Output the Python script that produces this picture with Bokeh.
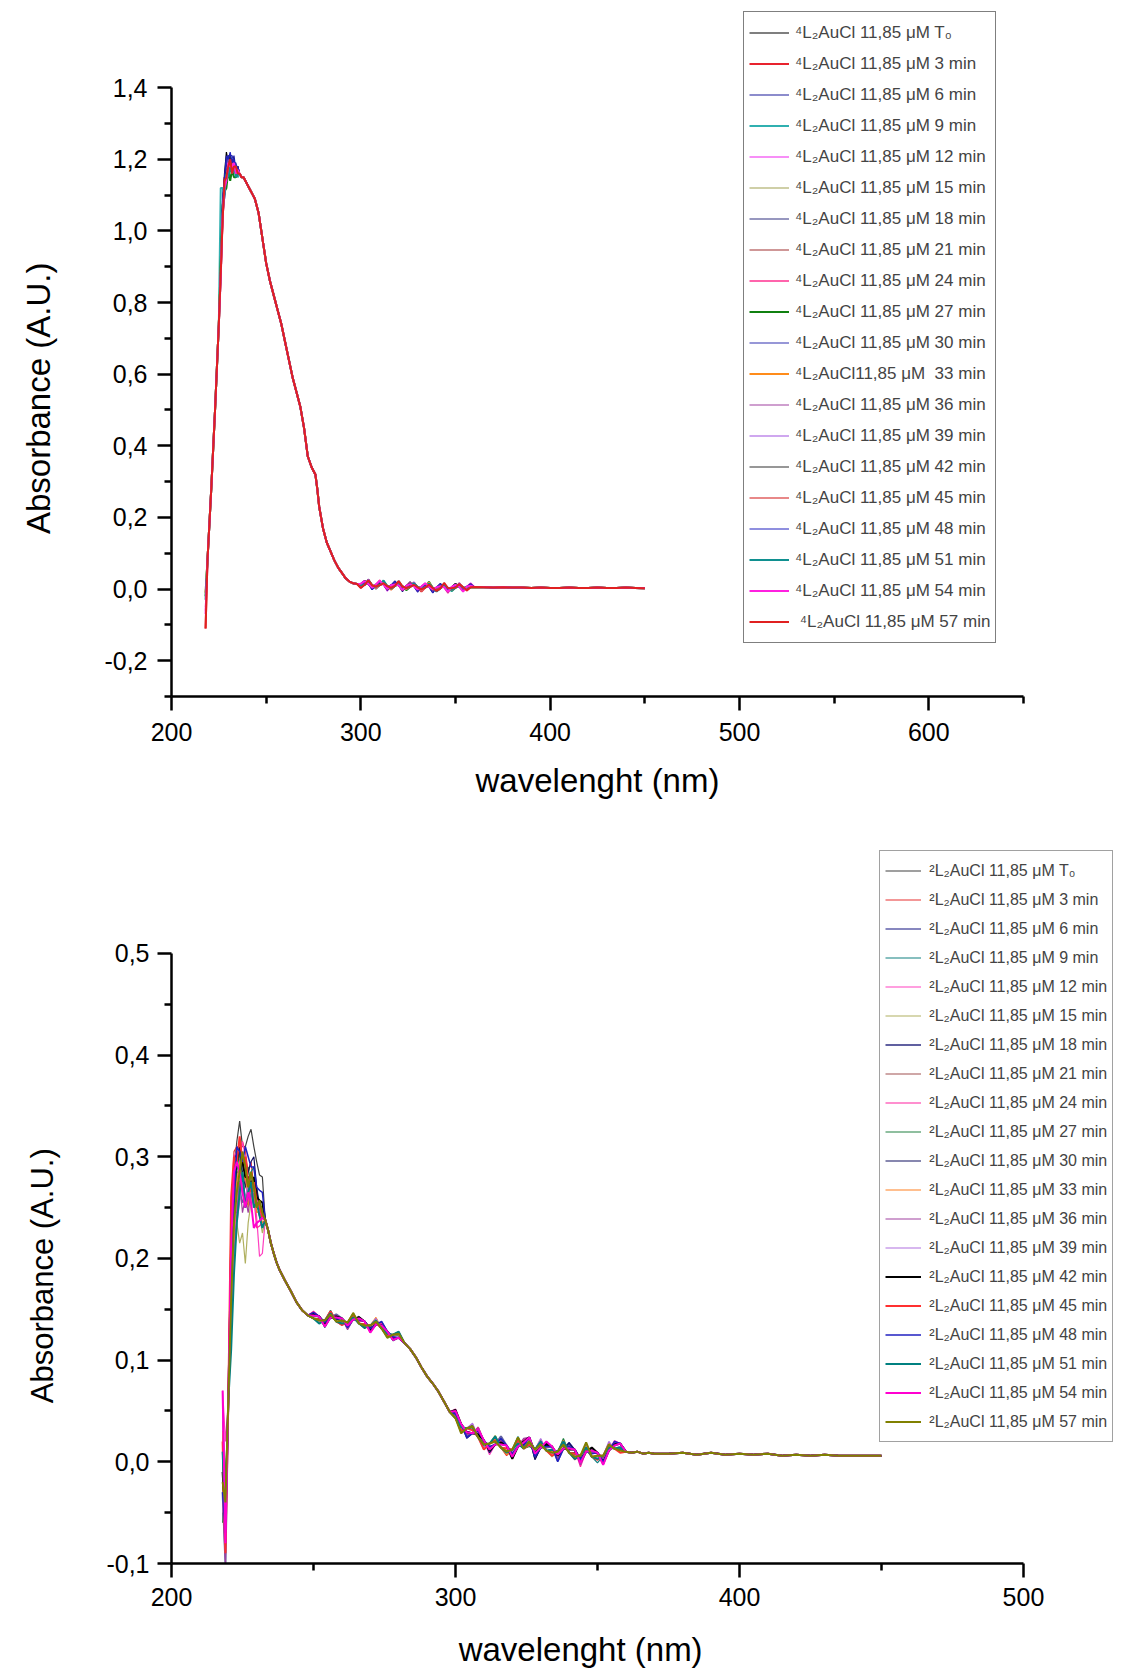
from bokeh.plotting import figure
from bokeh.models import Legend, LegendItem, FixedTicker, CustomJSTickFormatter, Range1d
from bokeh.layouts import column
from bokeh.embed import file_html
from bokeh.resources import INLINE

# ---------------- data: top chart (4L2AuCl) ----------------
wl_top = [218, 219, 220, 221, 222, 223, 224, 225, 226, 227, 228, 229, 230, 231, 232, 233, 234, 235, 236, 237, 238, 239, 240, 241, 242, 243, 244,
          246, 248, 250, 252, 254, 256, 258, 260, 262, 264, 266, 268, 270, 272, 274, 276, 277, 278,
          280, 282, 284, 286, 288, 290, 292, 294, 296, 298, 300, 302, 304, 306, 308, 310, 312, 314, 316, 318, 320,
          322, 324, 326, 328, 330, 332, 334, 336, 338, 340, 342, 344, 346, 348, 350, 352, 354, 356, 358, 360,
          365, 370, 375, 380, 385, 390, 395, 400, 405, 410, 415, 420, 425, 430, 435, 440, 445, 450]
base_top = [-0.03, 0.08, 0.18, 0.28, 0.39, 0.50, 0.62, 0.74, 0.88, 1.03, 1.12, 1.16, 1.18, 1.19, 1.18, 1.18, 1.17, 1.17, 1.16, 1.15, 1.15, 1.14, 1.13, 1.12, 1.11, 1.10, 1.09,
            1.05, 0.98, 0.91, 0.86, 0.82, 0.78, 0.74, 0.69, 0.64, 0.59, 0.55, 0.51, 0.45, 0.37, 0.34, 0.32, 0.28, 0.23,
            0.17, 0.13, 0.105, 0.08, 0.06, 0.045, 0.03, 0.021, 0.016, 0.014, 0.015, 0.012, 0.014, 0.010, 0.013, 0.011, 0.012, 0.008, 0.011, 0.009, 0.010,
            0.007, 0.009, 0.006, 0.008, 0.005, 0.007, 0.004, 0.006, 0.003, 0.005, 0.002, 0.005, 0.003, 0.006, 0.004, 0.006, 0.005, 0.007, 0.005, 0.006,
            0.005, 0.004, 0.005, 0.004, 0.004, 0.003, 0.004, 0.003, 0.003, 0.004, 0.003, 0.003, 0.004, 0.003, 0.003, 0.004, 0.003, 0.002]
top_start_wl = [218]
top_start = [[-0.02], [-0.11], [-0.03], [-0.01], [-0.05], [-0.02], [-0.03], [-0.04], [-0.06], [-0.02],
             [-0.03], [-0.01], [-0.02], [-0.04], [-0.03], [-0.05], [-0.02], [-0.03], [-0.07], [-0.11]]
top_peak_wl = [226, 227, 228, 229, 230, 231, 232, 233, 234, 235]
top_peak_dev = [  # thousandths
    [20, 50, 40, 60, 10, 20, -10, 20, 0, 10],
    [0, 10, 30, -20, 10, -10, 20, 0, 10, -10],
    [10, 30, -30, 20, 30, 20, 10, 30, 0, 10],
    [240, 90, -20, 10, -30, 0, -20, 10, -10, -20],
    [0, 20, -10, 30, 0, 10, -10, 0, 10, -10],
    [10, 40, 20, -10, 20, -20, 10, -10, 0, 0],
    [20, 60, 10, 20, 30, 0, 20, 10, -10, 0],
    [0, -10, 20, 0, 10, -10, 0, 10, 0, -10],
    [-10, 0, -20, 10, -10, 0, 10, -10, 10, 0],
    [30, 40, -10, -40, -10, -50, -10, -30, -20, -10],
    [10, 50, 20, 40, 30, 20, 30, 10, 20, 0],
    [0, 10, 10, 0, -10, 10, 0, -10, 0, 0],
    [-10, 20, 0, 10, -20, 0, -10, 10, -10, 0],
    [0, 30, 10, -10, 20, -10, 0, -10, 10, -10],
    [10, 20, 30, 10, 0, 20, -10, 0, -10, 10],
    [0, 0, 10, -10, 0, -20, 0, -10, 0, 0],
    [20, 60, 30, 50, 20, 30, 10, 20, 0, 10],
    [0, 20, -20, 0, -30, -10, -20, 0, -20, -10],
    [-10, 10, 0, -20, 10, -10, 0, 10, -10, 0],
    [0, 0, 20, -10, 0, 10, -20, 0, 10, -10]]
# noise read in the 300-360 nm band; even series on the first grid, odd series on the second
top_noise_wl = [[302, 306, 310, 314, 318, 322, 326, 330, 334, 338, 342, 346, 350, 354, 358],
                [300, 304, 308, 312, 316, 320, 324, 328, 332, 336, 340, 344, 348, 352, 356]]
top_noise_dev = [  # units of 0.002
    [4, -3, 6, -5, 2, -4, 7, -2, 5, -6, 3, -4, 6, -3, 2],
    [-5, 6, -2, 4, -6, 3, -3, 5, -7, 2, -5, 4, -2, 3, -4],
    [2, -6, 4, -3, 5, -7, 2, -4, 6, -3, 7, -5, 3, -2, 4],
    [-3, 5, -6, 2, -4, 6, -5, 3, -2, 5, -4, 2, -6, 4, -3],
    [6, -2, 3, -7, 4, -2, 5, -6, 3, -4, 2, -3, 5, -5, 6],
    [-4, 3, -5, 6, -2, 5, -3, 2, -6, 4, -2, 6, -4, 2, -5],
    [3, -5, 2, -4, 7, -3, 4, -5, 2, -6, 5, -2, 3, -6, 2],
    [-6, 4, -3, 5, -3, 6, -2, 4, -5, 3, -6, 4, -3, 5, -2],
    [5, -4, 7, -2, 3, -5, 6, -3, 4, -2, 3, -7, 2, -4, 5],
    [-2, 6, -4, 3, -5, 2, -6, 5, -3, 7, -2, 3, -5, 3, -4],
    [4, -2, 5, -6, 2, -4, 3, -7, 5, -3, 6, -2, 4, -3, 2],
    [-5, 3, -2, 4, -6, 5, -4, 2, -3, 6, -5, 3, -2, 5, -3],
    [2, -4, 6, -3, 5, -2, 7, -4, 2, -5, 3, -6, 5, -2, 4],
    [-3, 7, -5, 2, -4, 3, -2, 6, -5, 2, -4, 5, -3, 6, -2],
    [6, -3, 2, -5, 3, -6, 5, -2, 4, -3, 2, -4, 6, -5, 3],
    [-4, 2, -6, 3, -2, 4, -5, 3, -6, 4, -3, 2, -5, 3, -6],
    [3, -6, 4, -2, 6, -3, 2, -5, 3, -7, 4, -3, 2, -4, 5],
    [-2, 4, -3, 6, -5, 2, -3, 4, -2, 5, -6, 3, -4, 2, -3],
    [5, -3, 6, -4, 2, -5, 4, -3, 6, -2, 3, -5, 4, -6, 2],
    [-6, 5, -3, 2, -4, 6, -3, 2, -4, 3, -5, 6, -2, 4, -5]]
top_labels = ["⁴L₂AuCl 11,85 μM T₀", "⁴L₂AuCl 11,85 μM 3 min", "⁴L₂AuCl 11,85 μM 6 min", "⁴L₂AuCl 11,85 μM 9 min",
              "⁴L₂AuCl 11,85 μM 12 min", "⁴L₂AuCl 11,85 μM 15 min", "⁴L₂AuCl 11,85 μM 18 min", "⁴L₂AuCl 11,85 μM 21 min",
              "⁴L₂AuCl 11,85 μM 24 min", "⁴L₂AuCl 11,85 μM 27 min", "⁴L₂AuCl 11,85 μM 30 min", "⁴L₂AuCl11,85 μM  33 min",
              "⁴L₂AuCl 11,85 μM 36 min", "⁴L₂AuCl 11,85 μM 39 min", "⁴L₂AuCl 11,85 μM 42 min", "⁴L₂AuCl 11,85 μM 45 min",
              "⁴L₂AuCl 11,85 μM 48 min", "⁴L₂AuCl 11,85 μM 51 min", "⁴L₂AuCl 11,85 μM 54 min", " ⁴L₂AuCl 11,85 μM 57 min"]
top_colors = ["#000000", "#e8232e", "#1a1a9a", "#30b0b0", "#f020f0", "#a0a050", "#303080", "#a03030", "#ff3090", "#108010",
              "#3030b0", "#ff8c1a", "#a040a0", "#a050e0", "#303030", "#e06060", "#2020c0", "#109090", "#ff20e0", "#e02020"]
top_widths = [1.2, 2, 1.2, 2, 1.2, 1.2, 1.2, 1.2, 1.5, 2, 1.2, 2, 1.2, 1.2, 1.2, 1.5, 1.2, 2, 2, 2]
top_xticks = [200, 300, 400, 500, 600]
top_xminor = [250, 350, 450, 550, 650]
top_yticks = [-0.2, 0.0, 0.2, 0.4, 0.6, 0.8, 1.0, 1.2, 1.4]
top_yminor = [-0.3, -0.1, 0.1, 0.3, 0.5, 0.7, 0.9, 1.1, 1.3]

# ---------------- data: bottom chart (2L2AuCl) ----------------
wl_bot = [218, 219, 220, 221, 222, 223, 224, 225, 226, 227, 228, 229, 230, 231, 232, 233, 234, 235, 236, 237, 238,
          240, 242, 244, 246, 248, 250, 252, 254, 256, 258, 260, 262, 264, 266, 268, 270, 272, 274, 276, 278, 280, 282, 284, 286, 288, 290, 292, 294, 296, 298,
          300, 302, 304, 306, 308, 310, 312, 314, 316, 318, 320, 322, 324, 326, 328, 330, 332, 334, 336, 338, 340, 342, 344, 346, 348, 350, 352, 354, 356, 358, 360, 362, 364, 366, 368, 370,
          375, 380, 385, 390, 395, 400, 405, 410, 415, 420, 425, 430, 435, 440, 445, 450]
base_bot = [0.00, -0.04, 0.06, 0.20, 0.255, 0.275, 0.285, 0.285, 0.28, 0.275, 0.275, 0.27, 0.26, 0.252, 0.245, 0.238, 0.228, 0.215, 0.205, 0.196, 0.189,
            0.178, 0.168, 0.157, 0.149, 0.144, 0.141, 0.143, 0.139, 0.142, 0.138, 0.141, 0.137, 0.140, 0.136, 0.138, 0.134, 0.135, 0.131, 0.128, 0.125, 0.122, 0.117, 0.111, 0.103, 0.093, 0.084, 0.077, 0.069, 0.059, 0.049,
            0.043, 0.037, 0.033, 0.028, 0.024, 0.021, 0.018, 0.017, 0.014, 0.016, 0.012, 0.015, 0.013, 0.024, 0.012, 0.014, 0.011, 0.015, 0.010, 0.013, 0.009, 0.012, 0.006, 0.010, 0.005, 0.009, 0.006, 0.011, 0.013, 0.018, 0.010, 0.009, 0.010, 0.008, 0.009, 0.008,
            0.008, 0.009, 0.007, 0.009, 0.007, 0.008, 0.007, 0.008, 0.006, 0.007, 0.006, 0.007, 0.006, 0.006, 0.006, 0.006]
bot_start_wl = [218, 219]
bot_start = [[0.03, -0.06], [-0.02, -0.09], [0.01, -0.03], [-0.05, -0.07], [0.07, 0.02], [0.02, -0.05], [-0.03, -0.10],
             [0.04, -0.02], [0.06, -0.04], [-0.06, -0.02], [0.00, -0.08], [0.03, -0.05], [-0.04, -0.10], [0.05, -0.03],
             [-0.01, -0.06], [0.02, -0.09], [-0.03, -0.07], [0.01, -0.06], [0.07, -0.08], [-0.02, -0.04]]
bot_peak_wl = [221, 222, 223, 224, 225, 226, 227, 228, 229, 230, 231, 232]
bot_peak_dev = [  # thousandths
    [20, 30, 40, 50, 25, 30, 45, 52, 40, 35, 30, 35],
    [40, 50, 35, 20, 30, 25, 10, 20, 0, 5, -10, 0],
    [-40, -20, 10, 0, -10, -30, -20, 0, 10, 5, 0, -5],
    [-60, -50, -30, -10, 10, 0, -10, 10, 20, 0, 5, -5],
    [-80, -40, -20, 10, 30, 20, -10, -20, 0, -20, -50, -40],
    [-30, -20, -40, -70, -60, -85, -40, -20, 10, 0, -10, -20],
    [10, 20, 0, -20, -30, -20, -10, 0, -15, -10, 0, -5],
    [50, 40, 20, 0, -20, -10, 0, 10, -10, 0, -5, 5],
    [20, 45, 30, 10, 20, 0, -20, 0, -10, -30, -20, -10],
    [-20, 0, 10, 20, -10, 0, 15, -5, 0, 10, -10, 0],
    [-10, 10, 30, 20, 0, -10, 10, 20, 30, 10, 0, 5],
    [-50, -30, 0, 10, -15, 5, -25, -10, 0, -15, -5, -10],
    [-20, -10, -30, -10, -40, -20, -30, -10, -20, 0, -10, 0],
    [-70, -60, -40, -30, -10, -20, 0, -10, -5, 0, -10, 5],
    [0, 15, 20, 25, 10, 0, 5, -5, 10, 0, 5, 10],
    [60, 45, 20, 35, 10, 20, 0, -10, 5, -5, 0, -5],
    [-30, 0, 35, 20, 10, 30, 25, 15, 20, 10, 15, 20],
    [-90, -70, -40, -20, 0, -30, -10, 0, -20, -5, -10, -15],
    [10, 30, 20, 0, -20, -30, -10, -20, -40, -25, -15, -5],
    [-40, -20, -10, 0, 20, 10, -5, 10, 0, -10, 5, 0]]
bot_plateau_wl = [[250, 254, 258, 262, 266, 270, 274, 278],
                  [252, 256, 260, 264, 268, 272, 276, 280]]
bot_plateau_dev = [  # thousandths
    [4, -6, 3, -5, 7, -3, 5, -4], [-5, 3, -7, 4, -2, 6, -4, 3], [6, -4, 2, -6, 4, -5, 3, -6], [-3, 7, -4, 2, -6, 3, -5, 4],
    [5, -2, 6, -4, 3, -7, 4, -2], [-6, 4, -3, 7, -5, 2, -3, 6], [3, -5, 7, -2, 5, -4, 6, -3], [-4, 2, -5, 6, -3, 5, -2, 4],
    [7, -3, 4, -5, 2, -6, 5, -4], [-2, 6, -3, 4, -7, 3, -6, 2], [5, -7, 2, -3, 6, -2, 4, -5], [-6, 3, -4, 5, -2, 7, -3, 3],
    [2, -4, 6, -7, 3, -4, 2, -6], [-5, 5, -2, 3, -4, 6, -5, 3], [4, -3, 5, -2, 6, -5, 3, -4], [-3, 6, -6, 4, -3, 2, -4, 5],
    [6, -2, 3, -5, 4, -3, 7, -2], [-7, 4, -5, 2, -6, 4, -2, 6], [3, -6, 4, -3, 5, -7, 3, -5], [-4, 3, -2, 6, -4, 3, -6, 4]]
bot_noise_wl = [[300, 304, 308, 312, 316, 320, 324, 328, 332, 336, 340, 344, 348, 352, 356],
                [302, 306, 310, 314, 318, 322, 326, 330, 334, 338, 342, 346, 350, 354, 358]]
bot_noise_dev = [  # thousandths
    [5, -8, 10, -6, 4, -9, 7, -5, 8, -3, 6, -7, 4, -5, 3],
    [-7, 9, -4, 6, -10, 5, -3, 8, -6, 4, -9, 6, -2, 7, -5],
    [3, -10, 6, -4, 8, -6, 3, -9, 5, -7, 10, -4, 6, -3, 5],
    [-5, 7, -9, 3, -6, 10, -7, 4, -3, 8, -5, 3, -10, 6, -4],
    [9, -3, 5, -11, 6, -4, 8, -6, 4, -8, 3, -5, 7, -9, 8],
    [-6, 4, -7, 9, -3, 7, -5, 2, -10, 6, -3, 9, -6, 3, -7],
    [4, -7, 3, -5, 11, -4, 6, -8, 3, -9, 7, -3, 4, -8, 3],
    [-9, 6, -4, 7, -5, 9, -3, 5, -7, 4, -10, 6, -4, 7, -3],
    [7, -5, 10, -3, 4, -8, 9, -4, 6, -3, 5, -11, 3, -6, 7],
    [-3, 8, -6, 5, -7, 3, -9, 7, -4, 10, -3, 4, -7, 5, -6],
    [6, -3, 7, -9, 3, -6, 4, -10, 7, -4, 9, -3, 6, -4, 3],
    [-8, 4, -3, 6, -9, 7, -6, 3, -5, 8, -7, 5, -3, 7, -4],
    [3, -6, 9, -4, 7, -3, 10, -6, 3, -7, 4, -9, 7, -3, 6],
    [-4, 10, -7, 3, -6, 5, -3, 9, -7, 3, -6, 7, -4, 9, -3],
    [8, -4, 3, -7, 5, -9, 7, -3, 6, -4, 3, -6, 9, -7, 4],
    [-6, 3, -9, 4, -3, 6, -7, 5, -9, 6, -4, 3, -7, 4, -9],
    [4, -9, 6, -3, 9, -4, 3, -7, 4, -10, 6, -4, 3, -6, 7],
    [-3, 6, -4, 8, -7, 3, -4, 6, -3, 7, -9, 4, -6, 3, -4],
    [7, -4, 8, -6, 3, -7, 6, -4, 9, -3, 4, -7, 6, -9, 3],
    [-9, 7, -4, 3, -6, 9, -4, 3, -6, 4, -7, 9, -3, 6, -7]]
bot_labels = ["²L₂AuCl 11,85 μM T₀", "²L₂AuCl 11,85 μM 3 min", "²L₂AuCl 11,85 μM 6 min", "²L₂AuCl 11,85 μM 9 min",
              "²L₂AuCl 11,85 μM 12 min", "²L₂AuCl 11,85 μM 15 min", "²L₂AuCl 11,85 μM 18 min", "²L₂AuCl 11,85 μM 21 min",
              "²L₂AuCl 11,85 μM 24 min", "²L₂AuCl 11,85 μM 27 min", "²L₂AuCl 11,85 μM 30 min", "²L₂AuCl 11,85 μM 33 min",
              "²L₂AuCl 11,85 μM 36 min", "²L₂AuCl 11,85 μM 39 min", "²L₂AuCl 11,85 μM 42 min", "²L₂AuCl 11,85 μM 45 min",
              "²L₂AuCl 11,85 μM 48 min", "²L₂AuCl 11,85 μM 51 min", "²L₂AuCl 11,85 μM 54 min", "²L₂AuCl 11,85 μM 57 min"]
bot_colors = ["#404040", "#e83030", "#101080", "#108080", "#ff40c0", "#b0b060", "#6060a0", "#a05050", "#ff20a0", "#208040",
              "#101060", "#ff8020", "#a040a0", "#b070e0", "#000000", "#ff3030", "#2020c0", "#008080", "#ff00d0", "#808000"]
bot_widths = [1.2, 1.2, 1.2, 1.2, 1.2, 1.2, 2, 1.2, 1.2, 1.2, 1.2, 1.2, 1.2, 1.2, 2, 2, 1.5, 2, 2, 2]
bot_xticks = [200, 300, 400, 500]
bot_xminor = [250, 350, 450]
bot_yticks = [-0.1, 0.0, 0.1, 0.2, 0.3, 0.4, 0.5]
bot_yminor = [-0.05, 0.05, 0.15, 0.25, 0.35, 0.45]

FONT = "Liberation Sans"
NB = "\u00a0"  # non-breaking spaces keep the axis titles centred on the drawn axis (frame is larger for the legend)


def build_series(wl, base, i, parts):
    y = list(base)
    for kind, wls, vals, unit in parts:
        for w, v in zip(wls, vals[i]):
            if kind == "set":
                y[wl.index(w)] = v
            else:
                y[wl.index(w)] += v * unit
    return y


def style(p, xt, xm, yt, ym, xb, yb, tick_size, xlab_size, ylab_size, ystand, xstand, xlab_stand, ylab_stand):
    p.xgrid.visible = False
    p.ygrid.visible = False
    p.outline_line_color = None
    p.background_fill_color = "white"
    p.border_fill_color = "white"
    p.xaxis.ticker = FixedTicker(ticks=xt, minor_ticks=xm)
    p.yaxis.ticker = FixedTicker(ticks=yt, minor_ticks=ym)
    p.xaxis.bounds = xb
    p.yaxis.bounds = yb
    p.yaxis.formatter = CustomJSTickFormatter(code="return tick.toFixed(1).replace('.', ',');")
    for ax in (p.xaxis[0], p.yaxis[0]):
        ax.axis_line_width = 2.5
        ax.axis_line_color = "black"
        ax.major_tick_line_width = 2.5
        ax.minor_tick_line_width = 2.5
        ax.major_tick_line_color = "black"
        ax.minor_tick_line_color = "black"
        ax.major_tick_in = 0
        ax.minor_tick_in = 0
        ax.major_tick_out = 14
        ax.minor_tick_out = 7
        ax.major_label_text_font = FONT
        ax.major_label_text_font_size = tick_size
        ax.major_label_text_color = "black"
        ax.axis_label_text_font = FONT
        ax.axis_label_text_font_style = "normal"
        ax.axis_label_text_color = "black"
    p.xaxis.axis_label_text_font_size = xlab_size
    p.yaxis.axis_label_text_font_size = ylab_size
    p.yaxis.major_label_standoff = ystand
    p.xaxis.major_label_standoff = xstand
    p.yaxis.axis_label_standoff = ylab_stand
    p.xaxis.axis_label_standoff = xlab_stand


# ---------------- top figure ----------------
p1 = figure(frame_width=852, frame_height=688, x_range=Range1d(200, 650), y_range=Range1d(-0.3, 1.621),
            output_backend="svg", toolbar_location=None,
            min_border_left=171, min_border_top=8, min_border_bottom=112, min_border_right=60,
            x_axis_label="wavelenght (nm)", y_axis_label="Absorbance (A.U.)" + NB * 10)
style(p1, top_xticks, top_xminor, top_yticks, top_yminor, (200, 650), (-0.3, 1.4),
      "25px", "33px", "33px", 10, 12, 18, 44)
items = []
for i in range(20):
    y = build_series(wl_top, base_top, i, [
        ("set", top_start_wl, top_start, 1),
        ("add", top_peak_wl, top_peak_dev, 0.001),
        ("add", top_noise_wl[i % 2], top_noise_dev, 0.002)])
    r = p1.line(wl_top, y, line_color=top_colors[i], line_width=top_widths[i])
    items.append(LegendItem(label=top_labels[i], renderers=[r]))
leg1 = Legend(items=items, location=(572, 53), label_text_font=FONT, label_text_font_size="17px",
              glyph_width=40, glyph_height=31, label_height=31, spacing=0, padding=5, label_standoff=6,
              border_line_color="black", border_line_width=1.5, background_fill_alpha=1, margin=0)
p1.add_layout(leg1)

# ---------------- bottom figure ----------------
p2 = figure(frame_width=965, frame_height=722, x_range=Range1d(200, 539.8), y_range=Range1d(-0.1, 0.61),
            output_backend="svg", toolbar_location=None,
            min_border_left=153, min_border_top=33, min_border_bottom=100, min_border_right=0,
            x_axis_label="wavelenght (nm)" + NB * 16, y_axis_label="Absorbance (A.U.)" + NB * 17)
style(p2, bot_xticks, bot_xminor, bot_yticks, bot_yminor, (200, 500), (-0.1, 0.5),
      "25px", "33px", "31px", 8, 10, 22, 43)
items2 = []
for i in range(20):
    y = build_series(wl_bot, base_bot, i, [
        ("set", bot_start_wl, bot_start, 1),
        ("add", bot_peak_wl, bot_peak_dev, 0.001),
        ("add", bot_plateau_wl[i % 2], bot_plateau_dev, 0.001),
        ("add", bot_noise_wl[i % 2], bot_noise_dev, 0.001)])
    r = p2.line(wl_bot, y, line_color=bot_colors[i], line_width=bot_widths[i])
    items2.append(LegendItem(label=bot_labels[i], renderers=[r]))
leg2 = Legend(items=items2, location=(729, 121), label_text_font=FONT, label_text_font_size="16px",
              glyph_width=36, glyph_height=29, label_height=29, spacing=0, padding=5, label_standoff=8,
              border_line_color="#444444", border_line_width=1.5, background_fill_alpha=1, margin=0)
p2.add_layout(leg2)

layout = column(p1, p2)
open("out.html", "w").write(file_html(layout, INLINE))
